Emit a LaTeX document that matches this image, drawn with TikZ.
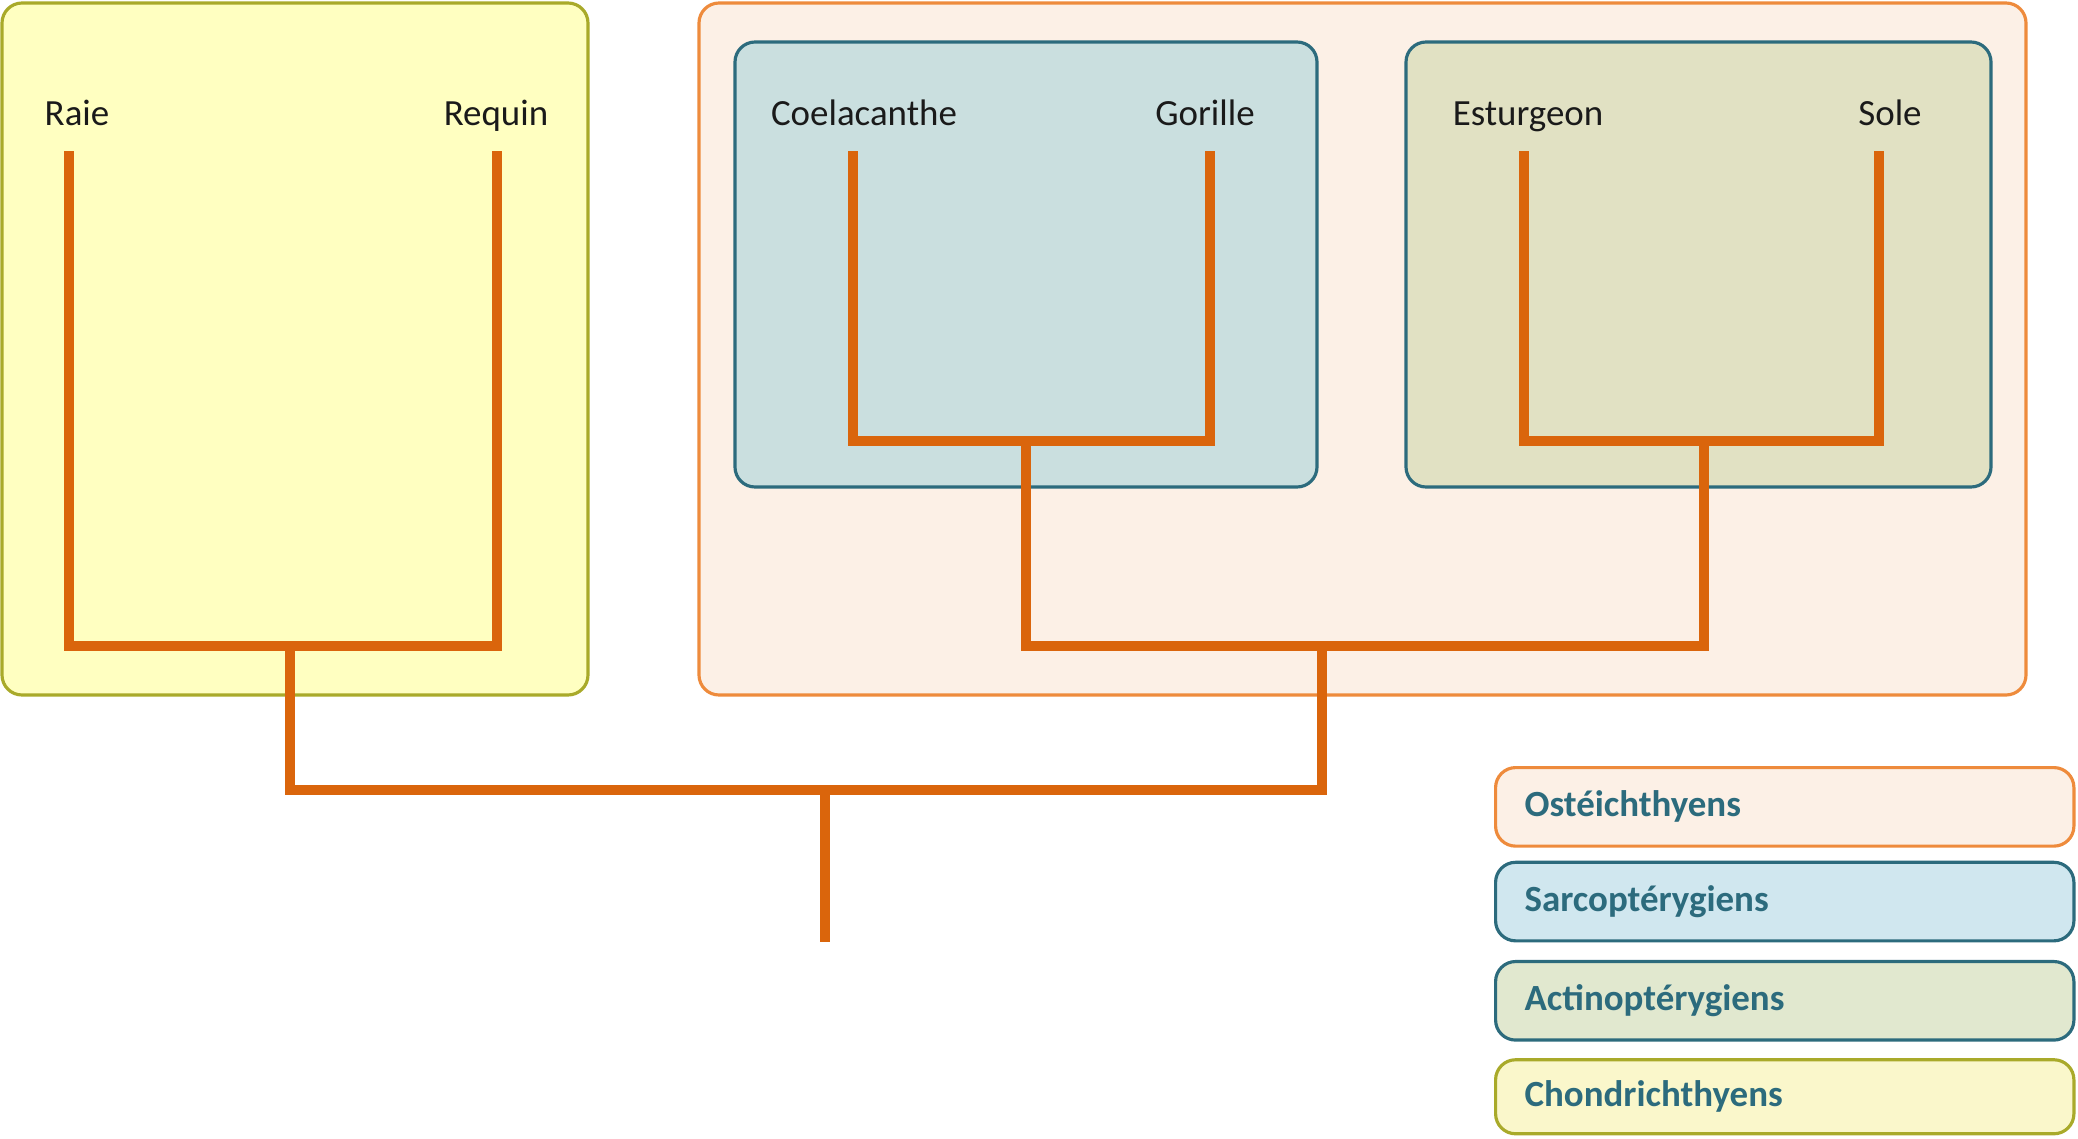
\documentclass[tikz,border=0pt]{standalone}
\usepackage{fontspec}
\setmainfont{Carlito}
\usepackage{tikz}
\usetikzlibrary{positioning}
\definecolor{branch}{HTML}{DA650C}
\definecolor{legtext}{HTML}{2C6B7D}
\definecolor{leafgray}{HTML}{1A1A1A}
\definecolor{chonfill}{HTML}{FFFFC1}
\definecolor{chonline}{HTML}{A9AA2A}
\definecolor{chonleg}{HTML}{FAF7CB}
\definecolor{ostefill}{HTML}{FCF0E6}
\definecolor{osteline}{HTML}{EE8B3C}
\definecolor{sarcfill}{HTML}{CADFDF}
\definecolor{sarcleg}{HTML}{D0E7EF}
\definecolor{actifill}{HTML}{E1E1C3}
\definecolor{actileg}{HTML}{E1E8CF}

\begin{document}
\begin{tikzpicture}[x=0.01cm,y=-0.01cm,
    group/.style={rounded corners=0.2cm,line width=0.9pt},
    leaf/.style={anchor=base,text=leafgray,font=\fontsize{10.5}{12}\selectfont},
    legend/.style={draw=legtext,rounded corners=0.2cm,line width=0.9pt,minimum height=0.785cm,
        text width=5.2cm,inner xsep=0.29cm,align=left,text=legtext,
        font=\fontsize{10.5}{12}\selectfont\bfseries},
    tree/.style={draw=branch,line width=0.105cm}]
\useasboundingbox (0,0) rectangle (2078,1139);

\draw[group,draw=chonline,fill=chonfill] (2,3) rectangle (588,695);
\draw[group,draw=osteline,fill=ostefill] (699,3) rectangle (2026,695);
\draw[group,draw=legtext,fill=sarcfill] (735,42) rectangle (1317,487);
\draw[group,draw=legtext,fill=actifill] (1406,42) rectangle (1991,487);

\node[leaf] (raie) at (77,125) {Raie};
\node[leaf] (requin) at (496,125) {Requin};
\node[leaf] (coel) at (864,125) {Coelacanthe};
\node[leaf] (gor) at (1205,125) {Gorille};
\node[leaf] (est) at (1528,125) {Esturgeon};
\node[leaf] (sole) at (1890,125) {Sole};

\coordinate (raie-tip) at (69,151);
\coordinate (requin-tip) at (497,151);
\coordinate (coel-tip) at (853,151);
\coordinate (gor-tip) at (1210,151);
\coordinate (est-tip) at (1524,151);
\coordinate (sole-tip) at (1879,151);
\coordinate (chon) at (290,646);
\coordinate (sarco) at (1026,441);
\coordinate (acti) at (1704,441);
\coordinate (oste) at (1322,646);
\coordinate (gnatho) at (825,790);
\coordinate (root) at (825,942);

\draw[tree] (raie-tip) |- (chon) -| (requin-tip);
\draw[tree] (coel-tip) |- (sarco) -| (gor-tip);
\draw[tree] (est-tip) |- (acti) -| (sole-tip);
\draw[tree] (sarco) |- (oste) -| (acti);
\draw[tree] (chon) |- (gnatho) -| (oste);
\draw[tree] (gnatho) -- (root);

\node[legend,draw=osteline,fill=ostefill,anchor=north west] (leg-oste) at (1494,766) {Ostéichthyens};
\node[legend,fill=sarcleg,below=0.13cm of leg-oste] (leg-sarco) {Sarcoptérygiens};
\node[legend,fill=actileg,below=0.175cm of leg-sarco] (leg-acti) {Actinoptérygiens};
\node[legend,draw=chonline,fill=chonleg,minimum height=0.74cm,below=0.165cm of leg-acti] (leg-chon) {Chondrichthyens};
\end{tikzpicture}
\end{document}
